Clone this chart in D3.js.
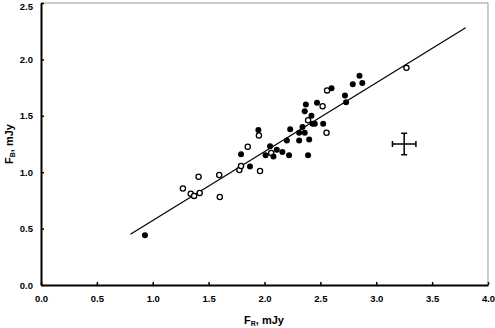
<!DOCTYPE html>
<html><head><meta charset="utf-8">
<script src="https://cdn.jsdelivr.net/npm/d3@7"></script>
<style>body{margin:0;background:#fff}svg{display:block}text{font-family:"Liberation Sans",Arial,sans-serif;font-weight:bold}</style>
</head><body>
<svg id="c" width="495" height="328"></svg>
<script>
// Filled points [F_R, F_B]
const filledX = [0.93,1.79,1.87,1.945,2.01,2.05,2.08,2.11,2.16,2.22,2.20,2.23,2.31,2.31,2.34,2.36,2.40,2.37,2.36,2.42,2.43,2.45,2.47,2.525,2.39,2.60,2.72,2.73,2.79,2.85,2.875];
const filledY = [0.44,1.16,1.05,1.375,1.15,1.23,1.14,1.20,1.18,1.15,1.28,1.38,1.35,1.28,1.40,1.35,1.29,1.60,1.54,1.50,1.43,1.43,1.615,1.43,1.15,1.745,1.68,1.62,1.78,1.855,1.79];
// Open points
const openX = [1.27,1.34,1.37,1.41,1.42,1.595,1.60,1.775,1.79,1.96,1.85,1.95,2.06,2.39,2.52,2.555,2.56,3.27];
const openY = [0.855,0.81,0.79,0.96,0.815,0.975,0.78,1.02,1.055,1.01,1.225,1.325,1.17,1.46,1.585,1.35,1.725,1.925];
// Regression line endpoints
const fitX = [0.80, 3.80];
const fitY = [0.45, 2.28];
// Typical error bar
const errX = [3.25], errY = [1.25], errDX = [0.105], errDY = [0.095];
const xTicks = [0,0.5,1,1.5,2,2.5,3,3.5,4];
const yTicks = [0,0.5,1,1.5,2,2.5];

const svg = d3.select("#c");
const x = d3.scaleLinear().domain([0,4]).range([41,488]);
const y = d3.scaleLinear().domain([0,2.5]).range([285,3]);

// frame top/right gray
svg.append("line").attr("x1",x(0)).attr("x2",x(4)).attr("y1",y(2.5)).attr("y2",y(2.5)).attr("stroke","#999").attr("stroke-width",1);
svg.append("line").attr("x1",x(4)).attr("x2",x(4)).attr("y1",y(2.5)).attr("y2",y(0)).attr("stroke","#999").attr("stroke-width",1);

const xa = svg.append("g").attr("transform",`translate(0,${y(0)})`)
  .call(d3.axisBottom(x).tickValues(xTicks).tickFormat(d3.format(".1f")).tickSizeInner(-3).tickSizeOuter(0).tickPadding(10));
const ya = svg.append("g").attr("transform",`translate(${x(0)},0)`)
  .call(d3.axisLeft(y).tickValues(yTicks).tickFormat(d3.format(".1f")).tickSizeInner(-3).tickSizeOuter(0).tickPadding(8));
[xa,ya].forEach(a=>{
  a.select(".domain").attr("stroke","#000").attr("stroke-width",2);
  a.selectAll(".tick line").attr("stroke","#000").attr("stroke-width",1.5);
  a.selectAll(".tick text").attr("fill","#000").style("font-size","9.5px").style("font-weight","bold");
});
ya.selectAll(".tick text").filter(d=>d===2.5).attr("dy","1.32em").attr("y",-6);

// fit line
svg.append("line").attr("x1",x(fitX[0])).attr("y1",y(fitY[0])).attr("x2",x(fitX[1])).attr("y2",y(fitY[1]))
  .attr("stroke","#000").attr("stroke-width",1.2);

// points
svg.append("g").selectAll("circle").data(openX.map((d,i)=>[d,openY[i]])).join("circle")
  .attr("cx",d=>x(d[0])).attr("cy",d=>y(d[1])).attr("r",2.6).attr("fill","#fff").attr("stroke","#000").attr("stroke-width",1.3);
svg.append("g").selectAll("circle").data(filledX.map((d,i)=>[d,filledY[i]])).join("circle")
  .attr("cx",d=>x(d[0])).attr("cy",d=>y(d[1])).attr("r",3).attr("fill","#000");

// error bar
const eb = svg.append("g").attr("stroke","#000").attr("stroke-width",1.5);
errX.forEach((cx,i)=>{
  const cy=errY[i];
  eb.append("line").attr("x1",x(cx-errDX[i])).attr("x2",x(cx+errDX[i])).attr("y1",y(cy)).attr("y2",y(cy));
  eb.append("line").attr("x1",x(cx)).attr("x2",x(cx)).attr("y1",y(cy-errDY[i])).attr("y2",y(cy+errDY[i]));
  eb.append("line").attr("x1",x(cx-errDX[i])).attr("x2",x(cx-errDX[i])).attr("y1",y(cy)-3).attr("y2",y(cy)+3);
  eb.append("line").attr("x1",x(cx+errDX[i])).attr("x2",x(cx+errDX[i])).attr("y1",y(cy)-3).attr("y2",y(cy)+3);
  eb.append("line").attr("x1",x(cx)-3).attr("x2",x(cx)+3).attr("y1",y(cy-errDY[i])).attr("y2",y(cy-errDY[i]));
  eb.append("line").attr("x1",x(cx)-3).attr("x2",x(cx)+3).attr("y1",y(cy+errDY[i])).attr("y2",y(cy+errDY[i]));
});

// axis titles
const xt = svg.append("text").attr("x",264).attr("y",324).attr("text-anchor","middle").style("font-size","11px");
xt.append("tspan").text("F");
xt.append("tspan").attr("dy",2).style("font-size","7px").text("R");
xt.append("tspan").attr("dy",-2).text(", mJy");
const yt = svg.append("text").attr("transform","translate(13,144) rotate(-90)").attr("text-anchor","middle").style("font-size","11px");
yt.append("tspan").text("F");
yt.append("tspan").attr("dy",2).style("font-size","7px").text("B");
yt.append("tspan").attr("dy",-2).text(", mJy");
</script>
</body></html>
